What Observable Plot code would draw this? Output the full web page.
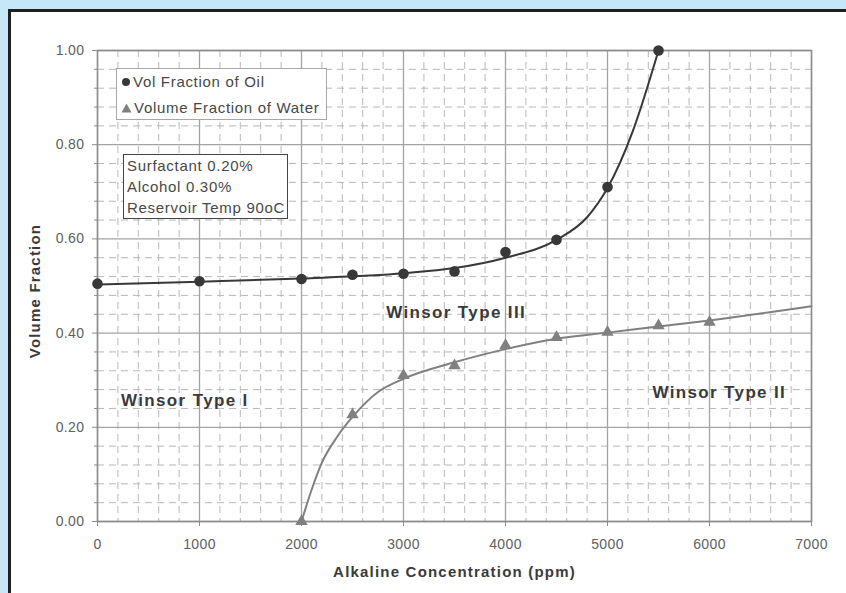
<!DOCTYPE html>
<html>
<head>
<meta charset="utf-8">
<script src="https://cdn.jsdelivr.net/npm/d3@7"></script>
<script src="https://cdn.jsdelivr.net/npm/@observablehq/plot@0.6"></script>
<style>
  html, body { margin: 0; padding: 0; width: 846px; height: 593px; overflow: hidden; background: #c6e7f7; }
  #panel { position: absolute; left: 8px; top: 9px; width: 900px; height: 700px; background: #fff;
           border-top: 3px solid #1f1f1f; border-left: 3px solid #1f1f1f; }
  #chart { position: absolute; left: 0; top: 0; }
  #chart g[aria-label="text"] text { letter-spacing: 0.08em; }
  #chart g[aria-label*="axis"] text { font-size: 14px !important; letter-spacing: 0.4px; }
  .box { position: absolute; background: #fff; font-family: "Liberation Sans", Arial, sans-serif;
         font-size: 15px; color: #484848; letter-spacing: 0.7px; }
  #legend { left: 116px; top: 68px; width: 209px; height: 50px; border: 1px solid #a8a8a8; }
  #legend .item { position: absolute; left: 4px; height: 16px; line-height: 16px; white-space: nowrap; }
  #legend svg { vertical-align: middle; margin-right: 2px; position: relative; top: -1px; }
  #note { left: 123px; top: 154px; width: 163px; height: 63px; border: 1.5px solid #444; }
  #note div { position: absolute; left: 3px; white-space: nowrap; line-height: 16px; }
</style>
</head>
<body>
<div id="panel"></div>
<div id="chart"></div>
<div id="legend" class="box"></div>
<div id="note" class="box"></div>
<script>
// ---- data ----
const xTicks = [0, 1000, 2000, 3000, 4000, 5000, 6000, 7000];
const yTicks = [0, 0.2, 0.4, 0.6, 0.8, 1.0];

const oilX = [0, 1000, 2000, 2500, 3000, 3500, 4000, 4500, 5000, 5500];
const oilY = [0.505, 0.510, 0.515, 0.524, 0.526, 0.531, 0.572, 0.598, 0.710, 1.00];

const waterX = [2000, 2500, 3000, 3500, 4000, 4500, 5000, 5500, 6000];
const waterY = [0.0, 0.227, 0.310, 0.331, 0.374, 0.391, 0.402, 0.416, 0.423];

// trend curves as drawn in the reference
const oilFitX = [0, 1000, 2000, 3000, 3500, 4000, 4500, 4800, 5000, 5250, 5500];
const oilFitY = [0.503, 0.509, 0.516, 0.527, 0.538, 0.560, 0.598, 0.646, 0.708, 0.830, 1.0];
const waterFitX = [2000, 2100, 2200, 2350, 2500, 2750, 3000, 3500, 4000, 4500, 5000, 5500, 6000, 7000];
const waterFitY = [0.0, 0.068, 0.125, 0.180, 0.222, 0.275, 0.303, 0.338, 0.366, 0.388, 0.401, 0.414, 0.427, 0.457];

const seriesNames = ["Vol Fraction of Oil", "Volume Fraction of Water"];
const noteLines = ["Surfactant 0.20%", "Alcohol 0.30%", "Reservoir Temp 90oC"];

const regionLabels = ["Winsor Type I", "Winsor Type III", "Winsor Type II"];
const regionX = [230, 2830, 5440];
const regionY = [0.257, 0.444, 0.274];

const xLabel = "Alkaline Concentration (ppm)";
const yLabel = "Volume Fraction";

// ---- build tables ----
const oil = oilX.map((x, i) => ({x, y: oilY[i]}));
const water = waterX.map((x, i) => ({x, y: waterY[i]}));
const oilFit = oilFitX.map((x, i) => ({x, y: oilFitY[i]}));
const waterFit = waterFitX.map((x, i) => ({x, y: waterFitY[i]}));
const regions = regionLabels.map((t, i) => ({t, x: regionX[i], y: regionY[i]}));

const xMinor = d3.range(0, 7001, 200).filter(v => v % 1000 !== 0);
const yMinor = d3.range(0, 26).map(i => i * 0.04).filter((v, i) => i % 5 !== 0);

const font = "'Liberation Sans', Arial, Helvetica, sans-serif";
const oilColor = "#383838";
const waterColor = "#808080";

const chart = Plot.plot({
  width: 846, height: 593,
  marginLeft: 97, marginRight: 35, marginTop: 50, marginBottom: 72,
  x: {domain: [0, 7000]},
  y: {domain: [0, 1]},
  style: {fontFamily: font, fontSize: "14px", color: "#5a5a5a", background: "transparent", overflow: "visible"},
  marks: [
    Plot.ruleX(xMinor, {stroke: "#b8b8b8", strokeWidth: 1, strokeDasharray: "7,5"}),
    Plot.ruleY(yMinor, {stroke: "#b8b8b8", strokeWidth: 1, strokeDasharray: "7,5"}),
    Plot.ruleX(xTicks, {stroke: "#a4a4a4", strokeWidth: 1.3}),
    Plot.ruleY(yTicks, {stroke: "#a4a4a4", strokeWidth: 1.3}),
    Plot.frame({stroke: "#8c8c8c", strokeWidth: 1.5}),
    Plot.axisX(xTicks, {tickSize: 5, tickPadding: 13, fontSize: 14, stroke: "#8c8c8c", fill: "#606060",
      tickFormat: d => String(d), label: null}),
    Plot.axisY(yTicks, {tickSize: 5, tickPadding: 8, fontSize: 14, stroke: "#8c8c8c", fill: "#606060",
      tickFormat: d3.format(".2f"), label: null}),
    Plot.axisY(yMinor, {tickSize: 3, stroke: "#8c8c8c", text: null, label: null}),
    Plot.line(waterFit, {x: "x", y: "y", curve: "monotone-x", stroke: waterColor, strokeWidth: 2}),
    Plot.line(oilFit, {x: "x", y: "y", curve: "monotone-x", stroke: oilColor, strokeWidth: 2}),
    Plot.dot(water, {x: "x", y: "y", symbol: "triangle", r: 4.6, fill: waterColor, stroke: "none"}),
    Plot.dot(oil, {x: "x", y: "y", r: 5.3, fill: oilColor, stroke: "none"}),
    Plot.text(regions, {x: "x", y: "y", text: "t", textAnchor: "start", fontSize: 17, fontWeight: "bold",
      fill: "#3a3a3a"}),
    Plot.text([xLabel], {frameAnchor: "bottom", textAnchor: "middle", dy: 55, fontSize: 15, fontWeight: "bold",
      fill: "#3a3a3a"}),
    Plot.text([yLabel], {frameAnchor: "left", textAnchor: "middle", dx: -62, dy: 5, rotate: -90, fontSize: 15,
      fontWeight: "bold", fill: "#3a3a3a"})
  ]
});
document.getElementById("chart").appendChild(chart);

// legend
const legend = document.getElementById("legend");
const markers = [
  `<svg width="10" height="10"><circle cx="5" cy="5" r="4" fill="${oilColor}"/></svg>`,
  `<svg width="11" height="10"><path d="M5.5,0.5 L10.5,9.5 L0.5,9.5 Z" fill="${waterColor}"/></svg>`
];
seriesNames.forEach((n, i) => {
  const d = document.createElement("div");
  d.className = "item";
  d.style.top = (5 + i * 26) + "px";
  d.innerHTML = markers[i] + n;
  legend.appendChild(d);
});
const note = document.getElementById("note");
noteLines.forEach((t, i) => {
  const d = document.createElement("div");
  d.style.top = (3 + i * 21) + "px";
  d.textContent = t;
  note.appendChild(d);
});
</script>
</body>
</html>
